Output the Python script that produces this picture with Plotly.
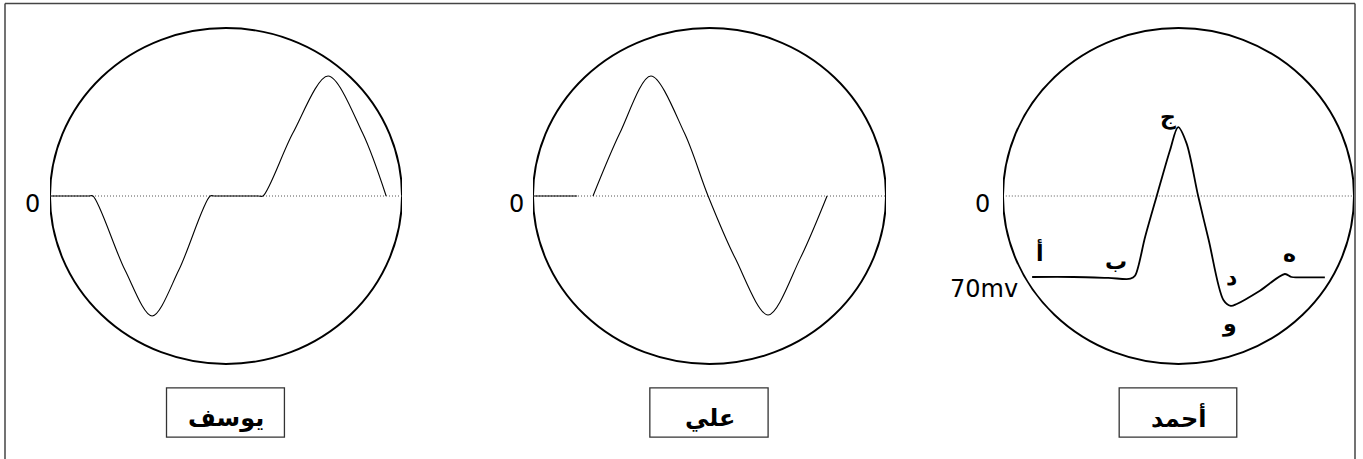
import plotly.graph_objects as go

# ---------------- data (time in % of sweep, potential in mV) ----------------
names = ["يوسف", "علي", "أحمد"]

t_yousef = [0, 11.0, 12.2, 21.3, 29.0, 36.6, 45.5, 46.8, 59.2, 60.5, 69.0, 79.0, 88.8, 95.5]
v_yousef = [0, 0, 0, -64, -103.7, -64, 0, 0, 0, 0, 54.4, 103.7, 54.4, 0]

t_ali = [0, 12.5, None, 17.0, 24.6, 33.4, 42.9, 49.6, 57.3, 66.6, 75.7, 83.3]
v_ali = [0, 0, None, 0, 54.4, 103.7, 54.4, 0, -53.9, -102.8, -53.9, 0]

t_ahmad = [8.3, 20.0, 30.0, 36.3, 37.6, 40.5, 43.8, 47.6, 49.9, 52.3, 55.6, 58.6,
           62.8, 64.9, 66.6, 73.2, 80.3, 82.2, 84.0, 91.7]
v_ahmad = [-70, -70, -70.8, -71.5, -69.0, -35.2, 0, 39.8, 59.6, 45.5, 0, -38.0,
           -89.9, -95.0, -93.3, -81.8, -67.4, -70.0, -70.3, -70.3]

point_labels = ["أ", "ب", "ج", "د", "و", "ه"]
label_t = [10.5, 32.2, 47.0, 65.0, 64.5, 81.5]
label_v = [-48.0, -57.0, 68.3, -70.5, -110.5, -50.0]

zero_label = "0"
rest_label = "70mv"
rest_value = -70

# ---------------- layout constants ----------------
W, H = 1363, 459
K = 81 / 70.0                     # px per mV
Y_TOP = 196 / K
Y_BOT = -(H - 196) / K
R = 145.2                         # circle half-height in mV
domains = [(50, 402), (533, 886), (1003, 1354)]
zero_label_px = [32, 516, 982.5]

fig = go.Figure()

axes = ["x", "x2", "x3"]
series = [(t_yousef, v_yousef, 1.1), (t_ali, v_ali, 1.1), (t_ahmad, v_ahmad, 1.8)]
for ax, (t, v, w) in zip(axes, series):
    fig.add_trace(go.Scatter(x=t, y=v, xaxis=ax, yaxis="y", mode="lines",
                             line=dict(color="black", width=w, shape="spline", smoothing=0.9),
                             connectgaps=False, hoverinfo="skip", showlegend=False))

shapes = []
annotations = []
font_lat = "DejaVu Sans, Verdana, sans-serif"
for i, ax in enumerate(axes):
    # circle (oscilloscope screen)
    shapes.append(dict(type="circle", xref=ax, yref="y", x0=0, x1=100, y0=-R, y1=R,
                       line=dict(color="black", width=1.9), layer="below"))
    # dotted zero line
    shapes.append(dict(type="line", xref=ax, yref="y", x0=0.8 if i == 2 else 0, x1=100, y0=0, y1=0,
                       line=dict(color="#555", width=1, dash="1px,2px"), layer="below"))
    # name box
    shapes.append(dict(type="rect", xref=ax, yref="y", x0=33.1, x1=66.6, y0=-208.3, y1=-165.9,
                       line=dict(color="#333", width=1.3)))
    annotations.append(dict(text="<b>" + names[i] + "</b>", xref=ax, yref="y", x=50, y=-191.5,
                            showarrow=False, xanchor="center", yanchor="middle",
                            font=dict(family="DejaVu Sans", size=24, color="black")))
    # zero label (left of the screen)
    annotations.append(dict(text=zero_label, xref="paper", yref="y", x=zero_label_px[i] / W, y=-6.5,
                            showarrow=False, xanchor="center", yanchor="middle",
                            font=dict(family=font_lat, size=24, color="black")))

annotations.append(dict(text=rest_label, xref="x3", yref="y", x=4.8, y=rest_value - 10,
                        showarrow=False, xanchor="right", yanchor="middle",
                        font=dict(family=font_lat, size=24, color="black")))
for lab, t, v in zip(point_labels, label_t, label_v):
    annotations.append(dict(text="<b>" + lab + "</b>", xref="x3", yref="y", x=t, y=v,
                            showarrow=False, xanchor="center", yanchor="middle",
                            font=dict(family="DejaVu Sans", size=22, color="black")))

# outer frame (left, top, right edges; it runs past the bottom of the picture)
frame = dict(color="#444", width=1.5)
x_l, x_r, y_t = 5 / W, 1355 / W, 1 - 3.5 / H
shapes.append(dict(type="line", xref="paper", yref="paper", x0=x_l, x1=x_l, y0=0, y1=y_t, line=frame))
shapes.append(dict(type="line", xref="paper", yref="paper", x0=x_r, x1=x_r, y0=0, y1=y_t, line=frame))
shapes.append(dict(type="line", xref="paper", yref="paper", x0=x_l, x1=x_r, y0=y_t, y1=y_t, line=frame))

layout = dict(width=W, height=H, margin=dict(l=0, r=0, t=0, b=0),
              paper_bgcolor="white", plot_bgcolor="white", showlegend=False,
              shapes=shapes, annotations=annotations,
              yaxis=dict(range=[Y_BOT, Y_TOP], domain=[0, 1], visible=False, fixedrange=True))
for i, ax in enumerate(axes):
    key = "xaxis" if i == 0 else "xaxis%d" % (i + 1)
    layout[key] = dict(range=[0, 100], domain=[domains[i][0] / W, domains[i][1] / W],
                       anchor="y", visible=False, fixedrange=True)
fig.update_layout(**layout)

fig.write_html("out.html", config={"displayModeBar": False},
               post_script="document.body.style.margin='0';document.body.style.overflow='hidden';")
